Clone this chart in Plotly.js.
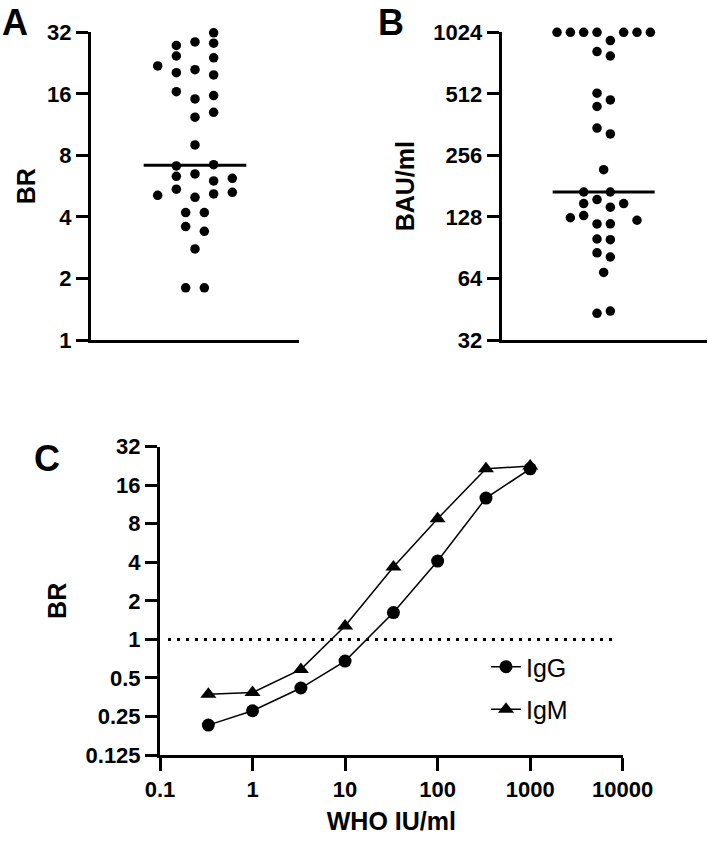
<!DOCTYPE html>
<html>
<head>
<meta charset="utf-8">
<script src="https://cdn.plot.ly/plotly-3.0.1.min.js"></script>
<style>html,body{margin:0;padding:0;background:#fff;}#chart{width:709px;height:843px;}</style>
</head>
<body>
<div id="chart"></div>
<script>
// ---------- Data ----------
// Panel A: BR values (one per sample) and their horizontal scatter-dot slot
const brA = [31.8, 27.6, 28.7, 28.3, 24.5, 24.0, 21.9, 20.3, 21.0, 19.8,
             16.4, 15.1, 15.7, 12.3, 13.0, 9.0, 7.1, 7.2, 6.32, 6.49,
             6.0, 6.18, 5.10, 5.47, 4.99, 5.18, 5.28, 4.20, 4.20, 3.59,
             3.40, 2.79, 1.80, 1.80];
const jitterA = [2, -2, 0, 2, -2, 2, -4, -2, 0, 2,
                 -2, 0, 2, 0, 2, 0, -2, 2, -2, 0,
                 2, 4, -4, -2, 0, 2, 4, -1, 1, -1,
                 1, 0, -1, 1];
// Panel B: BAU/ml values and slot
const bauB = [1024, 1024, 1024, 1024, 1024, 1024, 1024, 933, 824, 784,
              516, 478, 444, 348, 326, 218, 169.5, 169.5, 148.8, 155.7,
              142.8, 148.8, 126.8, 130, 123.3, 118.3, 118.5, 99.8, 99, 85.4,
              81.5, 68.5, 43.2, 44.3];
const jitterB = [-7, -5, -3, -1, 3, 5, 7, 1, -1, 1,
                 -1, 1, -1, -1, 1, 0, -3, 1, -3, -1,
                 1, 3, -5, -3, 5, -1, 1, -1, 1, -1,
                 1, 0, -1, 1];
// Panel C: dilution series
const whoConc = [0.333, 1, 3.33, 10, 33.3, 100, 333, 1000];
const brIgG = [0.214, 0.277, 0.417, 0.677, 1.62, 4.09, 12.7, 21.5];
const brIgM = [0.372, 0.384, 0.583, 1.27, 3.67, 8.77, 21.5, 22.6];
const cutoffBR = 1;
const cutoffRange = [0.122, 7800];
// Tick labels
const ticksA = [1, 2, 4, 8, 16, 32];
const ticksB = [32, 64, 128, 256, 512, 1024];
const ticksCy = [0.125, 0.25, 0.5, 1, 2, 4, 8, 16, 32];
const ticksCx = [0.1, 1, 10, 100, 1000, 10000];

// ---------- Helpers ----------
function median(arr) {
  const s = arr.slice().sort((a, b) => a - b);
  const n = s.length;
  return n % 2 ? s[(n - 1) / 2] : (s[n / 2 - 1] + s[n / 2]) / 2;
}
const W = 709, H = 843;
const px = v => v / W;
const py = v => 1 - v / H;
const FONT = 'Liberation Sans, Arial, sans-serif';
const tickFont = {family: FONT, size: 22, color: '#000', weight: 'bold'};
const titleFont = {family: FONT, size: 25, color: '#000', weight: 'bold'};

const medA = median(brA), medB = median(bauB);

const traces = [
  {x: jitterA, y: brA, xaxis: 'x', yaxis: 'y', type: 'scatter', mode: 'markers',
   marker: {size: 9.5, color: '#000'}, cliponaxis: false, showlegend: false, hoverinfo: 'y'},
  {x: [-5.5, 5.5], y: [medA, medA], xaxis: 'x', yaxis: 'y', type: 'scatter', mode: 'lines',
   line: {color: '#000', width: 3}, cliponaxis: false, showlegend: false},
  {x: jitterB, y: bauB, xaxis: 'x2', yaxis: 'y2', type: 'scatter', mode: 'markers',
   marker: {size: 9.5, color: '#000'}, cliponaxis: false, showlegend: false, hoverinfo: 'y'},
  {x: [-7.65, 7.65], y: [medB, medB], xaxis: 'x2', yaxis: 'y2', type: 'scatter', mode: 'lines',
   line: {color: '#000', width: 3}, cliponaxis: false, showlegend: false},
  {x: cutoffRange, y: [cutoffBR, cutoffBR], xaxis: 'x3', yaxis: 'y3', type: 'scatter', mode: 'lines',
   line: {color: '#000', width: 3, dash: '3px,6px'}, cliponaxis: false, showlegend: false},
  {x: whoConc, y: brIgG, name: 'IgG', legendgroup: 'g1', xaxis: 'x3', yaxis: 'y3', type: 'scatter',
   mode: 'lines+markers', line: {color: '#000', width: 1.5},
   marker: {symbol: 'circle', size: 13, color: '#000'}, cliponaxis: false},
  {x: whoConc, y: brIgM, name: 'IgM', legendgroup: 'g2', xaxis: 'x3', yaxis: 'y3', type: 'scatter',
   mode: 'lines+markers', line: {color: '#000', width: 1.5},
   marker: {symbol: 'triangle-up', size: 14, color: '#000'}, cliponaxis: false}
];

const lineAxis = {showline: true, linewidth: 3, linecolor: '#000', showgrid: false, zeroline: false,
                  fixedrange: true};
const yLog = (range, vals, title, standoff) => Object.assign({}, lineAxis, {
  type: 'log', range: range, tickvals: vals, ticktext: vals.map(String),
  ticks: 'outside', ticklen: 12, tickwidth: 3, tickcolor: '#000', tickfont: tickFont,
  title: {text: title, font: titleFont, standoff: standoff}
});

const layout = {
  width: W, height: H,
  margin: {l: 0, r: 0, t: 0, b: 0, pad: 0},
  paper_bgcolor: '#fff', plot_bgcolor: 'rgba(0,0,0,0)',
  showlegend: true,
  legend: {x: px(486), y: py(644), xanchor: 'left', yanchor: 'top',
           font: {family: FONT, size: 25, color: '#000'}, bgcolor: 'rgba(0,0,0,0)',
           tracegroupgap: 7, traceorder: 'grouped'},
  xaxis: Object.assign({}, lineAxis, {domain: [px(91), px(299)], range: [-11.15, 11.15],
         showticklabels: false, ticks: '', anchor: 'y'}),
  yaxis: Object.assign(yLog([0, Math.log10(32)], ticksA, 'BR', 5),
         {domain: [py(340), py(32.3)], anchor: 'x'}),
  xaxis2: Object.assign({}, lineAxis, {domain: [px(501.7), px(707)], range: [-15.3, 15.5],
          showticklabels: false, ticks: '', anchor: 'y2'}),
  yaxis2: Object.assign(yLog([Math.log10(32), Math.log10(1024)], ticksB, 'BAU/ml', 12),
          {domain: [py(340), py(32.3)], anchor: 'x2'}),
  xaxis3: Object.assign({}, lineAxis, {domain: [px(160), px(622.7)], type: 'log', range: [-1, 4],
          tickvals: ticksCx, ticktext: ticksCx.map(String), ticks: 'outside', ticklen: 13,
          tickwidth: 3, tickcolor: '#000', tickfont: tickFont, anchor: 'y3',
          title: {text: 'WHO IU/ml', font: titleFont, standoff: 12}}),
  yaxis3: Object.assign(yLog([Math.log10(0.125), Math.log10(32)], ticksCy, 'BR', 12),
          {domain: [py(755), py(446.7)], anchor: 'x3'}),
  annotations: [
    {text: 'A', x: px(0), y: py(0), xref: 'paper', yref: 'paper', xanchor: 'left', yanchor: 'top',
     showarrow: false, font: {family: FONT, size: 36, color: '#000', weight: 'bold'}},
    {text: 'B', x: px(376), y: py(0), xref: 'paper', yref: 'paper', xanchor: 'left', yanchor: 'top',
     showarrow: false, font: {family: FONT, size: 36, color: '#000', weight: 'bold'}},
    {text: 'C', x: px(32), y: py(436), xref: 'paper', yref: 'paper', xanchor: 'left', yanchor: 'top',
     showarrow: false, font: {family: FONT, size: 36, color: '#000', weight: 'bold'}}
  ]
};

Plotly.newPlot('chart', traces, layout, {displayModeBar: false, staticPlot: true});
</script>
</body>
</html>
